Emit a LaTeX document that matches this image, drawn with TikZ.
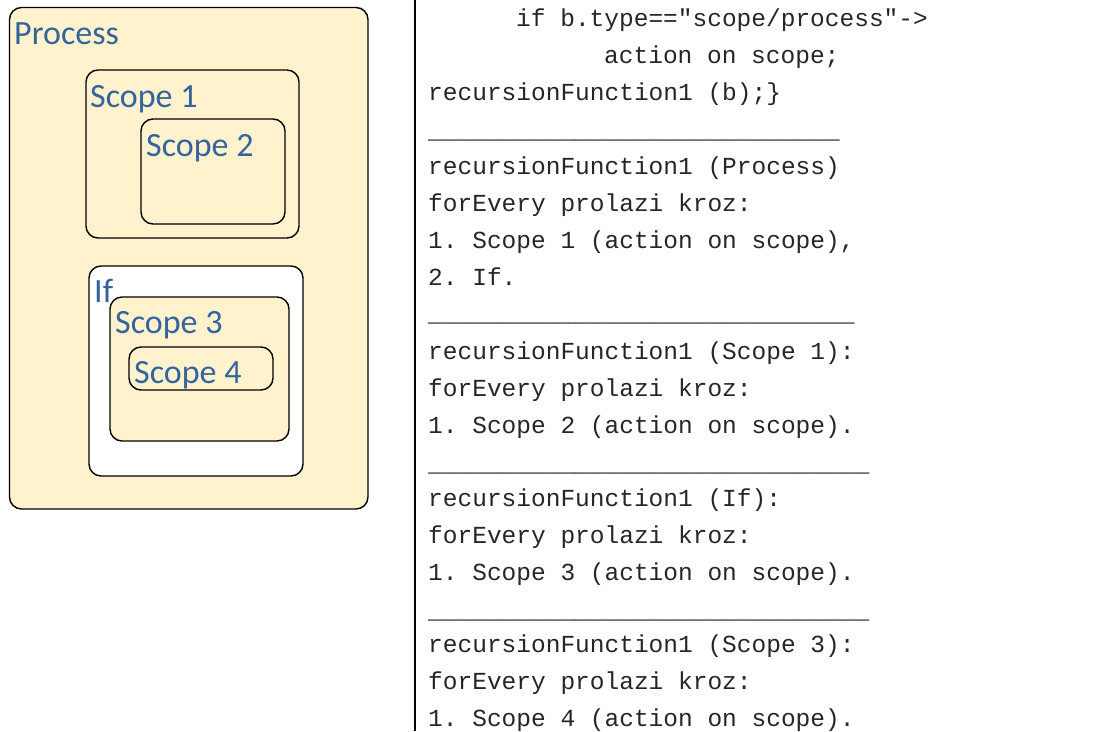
\documentclass[tikz,border=0pt]{standalone}
\usepackage{fontspec}
\setmainfont{Carlito}
\setmonofont{Liberation Mono}
\definecolor{boxfill}{RGB}{255,242,204}
\definecolor{labelblue}{RGB}{52,100,158}
\begin{document}
\begin{tikzpicture}[x=1pt,y=-1pt,
  area/.style={draw=black,line width=1.4pt,rounded corners=12pt},
  lbl/.style={anchor=base west,inner sep=0pt,text=labelblue,font=\fontsize{34}{34}\selectfont},
  code/.style={anchor=base west,inner sep=0pt,text=black!85,font=\ttfamily\fontsize{24.5}{24.5}\selectfont}]
\useasboundingbox (0,0) rectangle (1105,731);
% left diagram
\draw[area,fill=boxfill] (9.5,7.5) rectangle (368,509);
\draw[area] (86,70) rectangle (299,238);
\draw[area] (141,119) rectangle (285,224);
\draw[area,fill=white] (89,266) rectangle (303,476);
\draw[area,fill=boxfill] (110,297) rectangle (289,441);
\draw[area] (129,347) rectangle (273,390);
\node[lbl] (process) at (14,44) {Process};
\node[lbl] (scope1) at (90,107) {Scope 1};
\node[lbl] (scope2) at (146,156) {Scope 2};
\node[lbl] (if) at (94,302) {If};
\node[lbl] (scope3) at (115,333) {Scope 3};
\node[lbl] (scope4) at (134,383) {Scope 4};
% separator
\draw[line width=1.4pt] (415,0) -- (415,731);
% code
\node[code] (c1) at (516,26) {if b.type=="scope/process"->};
\node[code] (c2) at (604,63) {action on scope;};
\node[code] (c3) at (428,100) {recursionFunction1 (b);\}};
\node[code] (u1) at (428,138) {\_\_\_\_\_\_\_\_\_\_\_\_\_\_\_\_\_\_\_\_\_\_\_\_\_\_\_\_};
\node[code] (c4) at (428,174) {recursionFunction1 (Process)};
\node[code] (c5) at (428,211) {forEvery prolazi kroz:};
\node[code] (c6) at (428,248) {1. Scope 1 (action on scope),};
\node[code] (c7) at (428,285) {2. If.};
\node[code] (u2) at (428,321) {\_\_\_\_\_\_\_\_\_\_\_\_\_\_\_\_\_\_\_\_\_\_\_\_\_\_\_\_\_};
\node[code] (c8) at (428,359) {recursionFunction1 (Scope 1):};
\node[code] (c9) at (428,396) {forEvery prolazi kroz:};
\node[code] (c10) at (428,433) {1. Scope 2 (action on scope).};
\node[code] (u3) at (428,471) {\_\_\_\_\_\_\_\_\_\_\_\_\_\_\_\_\_\_\_\_\_\_\_\_\_\_\_\_\_\_};
\node[code] (c11) at (428,506) {recursionFunction1 (If):};
\node[code] (c12) at (428,543) {forEvery prolazi kroz:};
\node[code] (c13) at (428,580) {1. Scope 3 (action on scope).};
\node[code] (u4) at (428,618) {\_\_\_\_\_\_\_\_\_\_\_\_\_\_\_\_\_\_\_\_\_\_\_\_\_\_\_\_\_\_};
\node[code] (c14) at (428,652) {recursionFunction1 (Scope 3):};
\node[code] (c15) at (428,689) {forEvery prolazi kroz:};
\node[code] (c16) at (428,726) {1. Scope 4 (action on scope).};
\end{tikzpicture}
\end{document}
